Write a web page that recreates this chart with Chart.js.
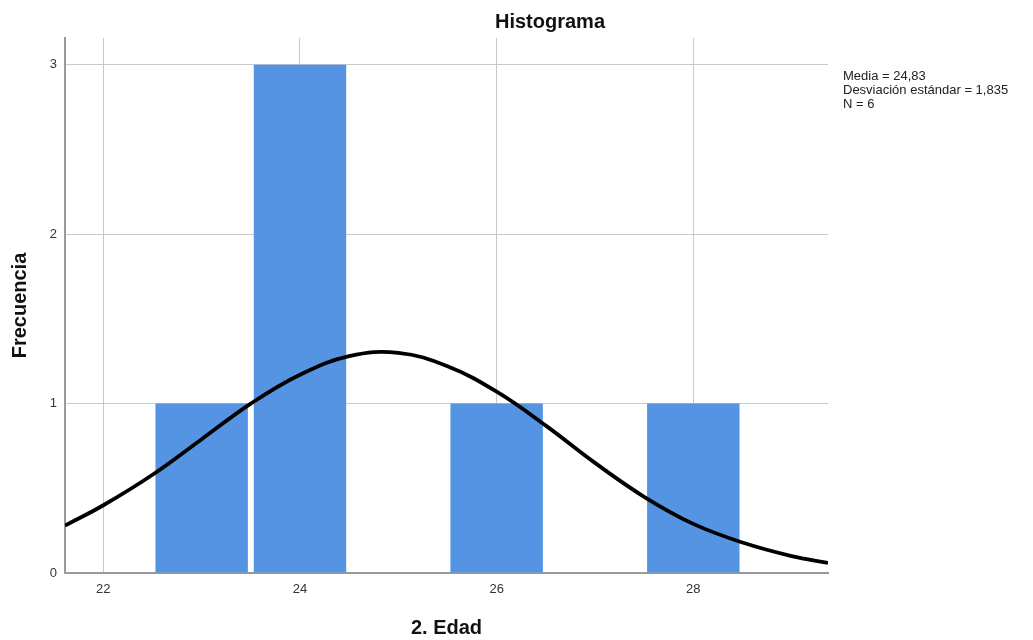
<!DOCTYPE html>
<html>
<head>
<meta charset="utf-8">
<script src="https://cdn.jsdelivr.net/npm/chart.js@4/dist/chart.umd.min.js"></script>
<style>
  html, body { margin: 0; padding: 0; background: #ffffff; }
  #wrap { width: 1033px; height: 640px; }
</style>
</head>
<body>
<div id="wrap"><canvas id="c" width="1033" height="640"></canvas></div>
<script>
// ---- data ----
const chartTitle = 'Histograma';
const xAxisTitle = '2. Edad';
const yAxisTitle = 'Frecuencia';
const binCenters = [23, 24, 26, 28];
const frequencies = [1, 3, 1, 1];
const xRange = [21.61, 29.37];
const yRange = [0, 3.158];
const xTickValues = [22, 24, 26, 28];
const yTickValues = [0, 1, 2, 3];
// normal curve, values
const curveX = [21.61, 22, 22.5, 23, 23.5, 24, 24.5, 25, 25.5, 26, 26.5, 27, 27.5, 28, 28.5, 29, 29.37];
const curveY = [0.28, 0.40, 0.58, 0.79, 1.00, 1.17, 1.28, 1.30, 1.22, 1.07, 0.87, 0.65, 0.45, 0.29, 0.18, 0.10, 0.06];
const statsLines = ['Media = 24,83', 'Desviación estándar = 1,835', 'N = 6'];

const FONT = '"Liberation Sans", Arial, "DejaVu Sans", sans-serif';

const barData = binCenters.map((x, i) => ({ x: x, y: frequencies[i] }));
const curveData = curveX.map((x, i) => ({ x: x, y: curveY[i] }));

const textPlugin = {
  id: 'spssText',
  afterDraw(chart) {
    const ctx = chart.ctx;
    const area = chart.chartArea;
    const ys = chart.scales.y;
    ctx.save();
    ctx.fillStyle = '#111111';
    ctx.font = 'bold 20px ' + FONT;
    ctx.textAlign = 'center';
    ctx.textBaseline = 'alphabetic';
    ctx.fillText(chartTitle, 550, 28);
    ctx.font = '13px ' + FONT;
    ctx.textAlign = 'left';
    ctx.fillStyle = '#222222';
    const y0 = ys.getPixelForValue(3) + 15;
    statsLines.forEach((t, i) => ctx.fillText(t, area.right + 15, y0 + i * 14.3));
    ctx.restore();
  }
};

new Chart(document.getElementById('c'), {
  type: 'bar',
  data: {
    datasets: [
      {
        type: 'line',
        data: curveData,
        borderColor: '#000000',
        borderWidth: 3.8,
        pointRadius: 0,
        tension: 0.4,
        fill: false,
        order: 0
      },
      {
        type: 'bar',
        data: barData,
        backgroundColor: '#5593e3',
        borderWidth: 0,
        barPercentage: 0.94,
        categoryPercentage: 1.0,
        order: 1
      }
    ]
  },
  options: {
    responsive: false,
    animation: false,
    devicePixelRatio: 1,
    layout: { padding: { top: 38, right: 205, left: 0, bottom: 0 } },
    plugins: {
      legend: { display: false },
      tooltip: { enabled: false },
      title: { display: false }
    },
    scales: {
      x: {
        type: 'linear',
        min: xRange[0],
        max: xRange[1],
        offset: false,
        afterBuildTicks: s => { s.ticks = xTickValues.map(v => ({ value: v })); },
        afterFit: s => { s.height = 67; },
        ticks: {
          font: { family: FONT, size: 13 },
          color: '#333333',
          padding: 9,
          autoSkip: false,
          maxRotation: 0,
          callback: v => String(v)
        },
        grid: { color: '#c9c9c9', lineWidth: 1, drawTicks: false, offset: false },
        border: { color: '#9a9a9a', width: 2 },
        title: {
          display: true,
          text: xAxisTitle,
          color: '#111111',
          font: { family: FONT, size: 20, weight: 'bold' },
          padding: { top: 0, bottom: 0 }
        }
      },
      y: {
        type: 'linear',
        min: yRange[0],
        max: yRange[1],
        afterBuildTicks: s => { s.ticks = yTickValues.map(v => ({ value: v })); },
        afterFit: s => { s.width = 65; },
        ticks: {
          font: { family: FONT, size: 13 },
          color: '#333333',
          padding: 8,
          callback: v => String(v)
        },
        grid: { color: '#c9c9c9', lineWidth: 1, drawTicks: false },
        border: { color: '#9a9a9a', width: 2 },
        title: {
          display: true,
          text: yAxisTitle,
          color: '#111111',
          font: { family: FONT, size: 20, weight: 'bold' },
          padding: { top: 8, bottom: 0 }
        }
      }
    }
  },
  plugins: [textPlugin]
});
</script>
</body>
</html>
